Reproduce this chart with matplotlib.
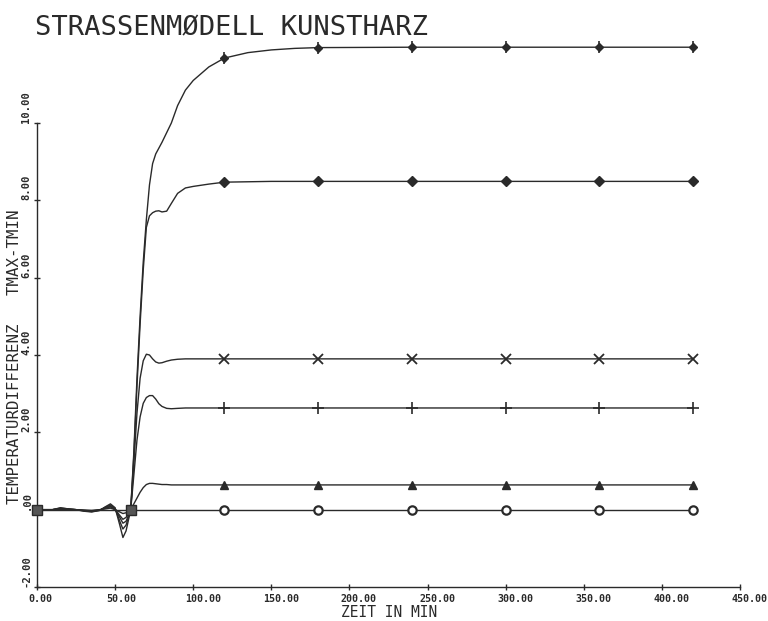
import numpy as np
import matplotlib.pyplot as plt
import matplotlib.transforms as mtransforms

plt.rcParams['font.family'] = ['DejaVu Sans Mono']

# time axis (minutes) shared by all curves
t = [0, 10, 15, 20, 25, 30, 35, 40, 44, 47, 50, 53, 55, 57, 60,
     62, 64, 66, 68, 70, 72, 74, 76, 78, 80, 83, 86, 90, 95, 100,
     110, 120, 135, 150, 165, 180, 240, 300, 360, 420]

# temperature difference Tmax - Tmin for each measuring point
dt_1 = [0, 0, 0.05, 0.02, 0, -0.04, -0.06, -0.02, 0.08, 0.15, 0.05, -0.40, -0.72, -0.55, 0,
        1.5, 3.4, 5.0, 6.4, 7.5, 8.4, 8.95, 9.2, 9.35, 9.5, 9.75, 10.0, 10.45, 10.85, 11.1,
        11.45, 11.68, 11.82, 11.89, 11.93, 11.95, 11.96, 11.96, 11.96, 11.96]
dt_2 = [0, 0, 0.04, 0.02, 0, -0.03, -0.05, -0.02, 0.07, 0.12, 0.03, -0.30, -0.50, -0.40, 0,
        1.4, 3.2, 4.8, 6.2, 7.3, 7.6, 7.68, 7.72, 7.73, 7.70, 7.72, 7.92, 8.18, 8.32, 8.36,
        8.42, 8.47, 8.48, 8.49, 8.49, 8.49, 8.49, 8.49, 8.49, 8.49]
dt_3 = [0, 0, 0.03, 0.01, 0, -0.02, -0.04, -0.01, 0.05, 0.09, 0.01, -0.20, -0.35, -0.30, 0,
        1.2, 2.5, 3.4, 3.85, 4.02, 4.0, 3.9, 3.82, 3.79, 3.80, 3.84, 3.87, 3.89, 3.90, 3.90,
        3.90, 3.90, 3.90, 3.90, 3.90, 3.90, 3.90, 3.90, 3.90, 3.90]
dt_4 = [0, 0, 0.02, 0.01, 0, -0.02, -0.03, -0.01, 0.04, 0.07, 0.01, -0.15, -0.25, -0.20, 0,
        0.9, 1.8, 2.4, 2.75, 2.9, 2.95, 2.95, 2.86, 2.74, 2.67, 2.62, 2.61, 2.62, 2.63, 2.63,
        2.63, 2.63, 2.63, 2.63, 2.63, 2.63, 2.63, 2.63, 2.63, 2.63]
dt_5 = [0, 0, 0.01, 0, 0, -0.01, -0.02, 0, 0.02, 0.04, 0, -0.06, -0.10, -0.08, 0,
        0.15, 0.30, 0.45, 0.57, 0.65, 0.68, 0.68, 0.67, 0.66, 0.65, 0.65, 0.64, 0.64, 0.64, 0.64,
        0.64, 0.64, 0.64, 0.64, 0.64, 0.64, 0.64, 0.64, 0.64, 0.64]
dt_6 = [0] * len(t)

# common start points
t_start = [0, 60]
dt_start = [0, 0]

# times where the plotter put a symbol
mark_times = [120, 180, 240, 300, 360, 420]

xticks = [0, 50, 100, 150, 200, 250, 300, 350, 400, 450]
xtick_labels = ['0.00', '50.00', '100.00', '150.00', '200.00', '250.00',
                '300.00', '350.00', '400.00', '450.00']
yticks = [-2, 0, 2, 4, 6, 8, 10]
ytick_labels = ['-2.00', '.00', '2.00', '4.00', '6.00', '8.00', '10.00']

ink = '#2a2a2a'

fig = plt.figure(figsize=(7.68, 6.21), dpi=100)
ax = fig.add_axes([37 / 768, 34 / 621, 703 / 768, 464 / 621])

marks = [i for i, v in enumerate(t) if v in mark_times]
styles = [
    (dt_1, dict(marker='D', ms=4.5)),
    (dt_2, dict(marker='D', ms=5.5)),
    (dt_3, dict(marker='x', ms=7, mew=1.3)),
    (dt_4, dict(marker='+', ms=8, mew=1.2)),
    (dt_5, dict(marker='^', ms=5.5)),
    (dt_6, dict(marker='o', ms=6, mfc='white', mew=1.6)),
]
for vals, st in styles:
    ax.plot(t, vals, color=ink, lw=1.0, markevery=marks, mec=ink,
            mfc=st.pop('mfc', ink), clip_on=False, **st)
# vertical stroke through the top curve's symbols
ax.plot([t[i] for i in marks], [dt_1[i] for i in marks], ls='none',
        marker='|', ms=9, mew=1.2, color=ink, clip_on=False)

ax.plot(t_start, dt_start, ls='none', marker='s', ms=7, mfc='#555555',
        mec=ink, clip_on=False, zorder=5)

ax.set_xlim(0, 450)
ax.set_ylim(-2, 10)
ax.spines['top'].set_visible(False)
ax.spines['right'].set_visible(False)
for s in ['left', 'bottom']:
    ax.spines[s].set_color(ink)
    ax.spines[s].set_linewidth(1.0)

ax.set_xticks(xticks, xtick_labels, fontsize=7.2, fontweight='bold', color=ink)
ax.set_yticks(yticks, ytick_labels, fontsize=7.6, fontweight='bold', color=ink,
              rotation=90, va='bottom')
ax.tick_params(direction='inout', length=5, width=1.0, color=ink, pad=1.5)
ax.tick_params(axis='x', pad=2.5)

shift = mtransforms.ScaledTranslation(-8.5 / 100, 0, fig.dpi_scale_trans)
for lab in ax.get_xticklabels():
    lab.set_ha('left')
    lab.set_transform(lab.get_transform() + shift)

fig.text(35 / 768, 1 - 35 / 621, 'STRASSENMØDELL KUNSTHARZ', fontsize=19.5,
         color=ink, ha='left', va='baseline')
fig.text(389 / 768, 1 - 617 / 621, 'ZEIT IN MIN', fontsize=10.5,
         color=ink, ha='center', va='baseline')
fig.text(15 / 768, 1 - 357 / 621, 'TEMPERATURDIFFERENZ   TMAX-TMIN', fontsize=11.3,
         color=ink, ha='center', va='center', rotation=90)

fig.savefig('out.png', dpi=100)
